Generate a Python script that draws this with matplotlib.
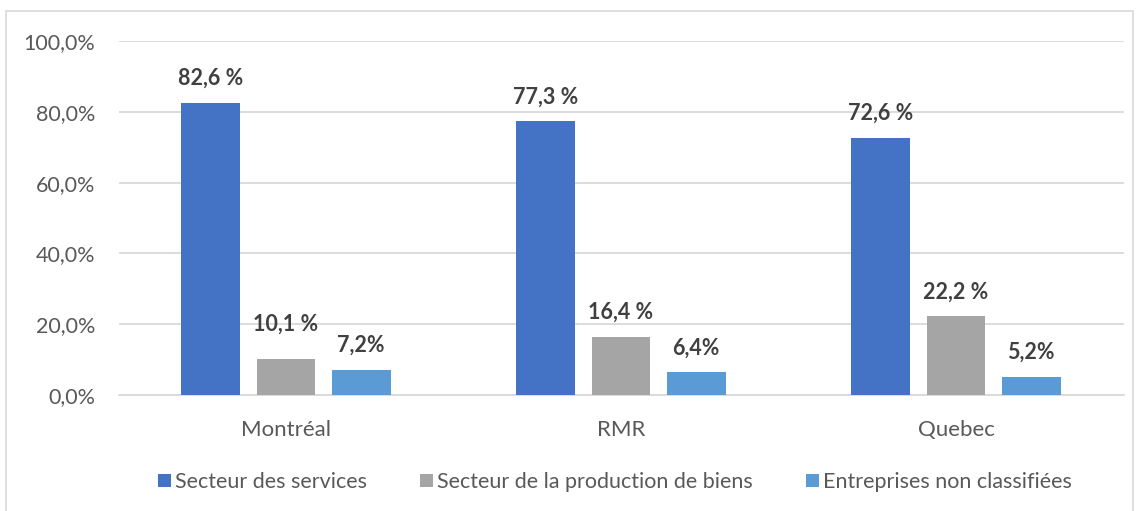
import matplotlib
matplotlib.use("Agg")
import matplotlib.pyplot as plt
from matplotlib.patches import Rectangle
import numpy as np

plt.rcParams['font.family'] = ['Lato', 'DejaVu Sans']

categories = ["Montréal", "RMR", "Quebec"]
series_names = ["Secteur des services", "Secteur de la production de biens", "Entreprises non classifiées"]
services = [82.6, 77.3, 72.6]
production = [10.1, 16.4, 22.2]
non_classees = [7.2, 6.4, 5.2]
labels_services = ["82,6 %", "77,3 %", "72,6 %"]
labels_production = ["10,1 %", "16,4 %", "22,2 %"]
labels_non_classees = ["7,2%", "6,4%", "5,2%"]
yticks = [0, 20, 40, 60, 80, 100]
ytick_labels = ["0,0%", "20,0%", "40,0%", "60,0%", "80,0%", "100,0%"]

colors = ["#4472C4", "#A5A5A5", "#5B9BD5"]
text_col = "#595959"

W, H = 1143, 511
fig = plt.figure(figsize=(W/100, H/100), dpi=100)
# outer border
fig.patches.append(Rectangle((6/W, -0.01), (1133-6)/W, 1 - 11/H + 0.01, transform=fig.transFigure,
                             fill=False, edgecolor="#D9D9D9", linewidth=1.2))

ax = fig.add_axes([118.5/W, 1 - 395/H, (1123.5-118.5)/W, (395-41)/H])
x = np.arange(len(categories))
width = 0.176
offs = [-0.224, 0, 0.224]
all_series = [services, production, non_classees]
all_labels = [labels_services, labels_production, labels_non_classees]
for i, (vals, labs) in enumerate(zip(all_series, all_labels)):
    bars = ax.bar(x + offs[i], vals, width, color=colors[i], label=series_names[i], zorder=3)
    for j, (b, lab) in enumerate(zip(bars, labs)):
        extra = 11 if (i == 1 and j == 0) else 0
        ax.annotate(lab, (b.get_x() + b.get_width()/2, b.get_height()),
                    xytext=(0, (14 + extra) * 0.72), textcoords="offset points",
                    ha="center", va="bottom", fontsize=15.5, fontweight="bold", color="#404040")

ax.set_xlim(-0.5, 2.5)
ax.set_ylim(0, 100)
ax.set_yticks(yticks)
ax.set_yticklabels(ytick_labels, fontsize=15.5, color=text_col)
ax.set_xticks(x)
ax.set_xticklabels(categories, fontsize=16, color=text_col)
ax.tick_params(axis="both", length=0)
ax.tick_params(axis="y", pad=17)
ax.tick_params(axis="x", pad=18)
ax.grid(axis="y", color="#D9D9D9", linewidth=1.3, zorder=0)
for s in ["top", "right", "left"]:
    ax.spines[s].set_visible(False)
ax.spines["bottom"].set_color("#D9D9D9")
ax.spines["bottom"].set_linewidth(1.3)

fig.legend(loc="center", bbox_to_anchor=(615/W, 1 - 482/H), ncol=3, frameon=False,
           fontsize=15.5, labelcolor=text_col, handlelength=0.6, handleheight=0.6,
           handletextpad=0.2, columnspacing=2.45)

fig.savefig("out.png", dpi=100)
